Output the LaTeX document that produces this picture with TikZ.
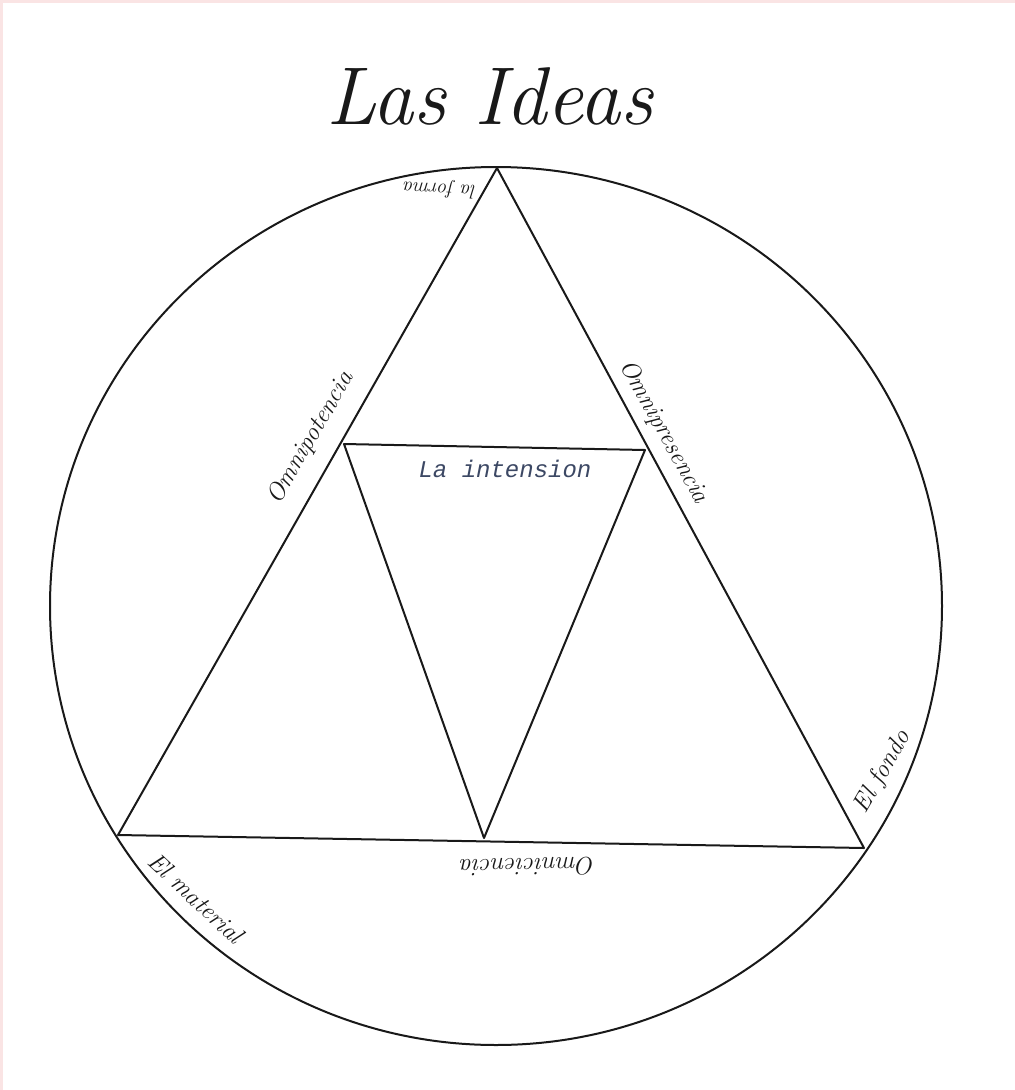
\documentclass[tikz,border=0pt]{standalone}
\usepackage{fontspec}
\newfontfamily\monoit{Liberation Mono}
\definecolor{frame}{RGB}{250,228,228}
\definecolor{ink}{RGB}{25,25,25}
\definecolor{typed}{RGB}{60,72,100}
\tikzset{
  sketch/.style={draw=ink, line width=2pt, line join=round, line cap=round},
  hand/.style={text=ink, font=\itshape\fontsize{25}{25}\selectfont, inner sep=1pt},
  titlehand/.style={text=ink, font=\itshape\fontsize{82}{82}\selectfont, inner sep=0pt},
  typedlab/.style={text=typed, font=\monoit\itshape\fontsize{24}{24}\selectfont, inner sep=1pt}
}
\begin{document}
\begin{tikzpicture}[x=1pt,y=-1pt]
\useasboundingbox (0,0) rectangle (1015,1090);
\fill[white] (0,0) rectangle (1015,1090);
\fill[frame] (0,0) rectangle (1015,3);
\fill[frame] (0,0) rectangle (3,1090);

% circle
\draw[sketch] (496,606) ellipse [x radius=446, y radius=439];

% outer triangle
\coordinate (A) at (497,168);
\coordinate (B) at (118,835);
\coordinate (C) at (864,848);
% inner triangle
\coordinate (P) at (344,444);
\coordinate (Q) at (645,450);
\coordinate (R) at (484,838);

\draw[sketch] (A) -- (B) -- (C) -- cycle;
\draw[sketch] (P) -- (Q) -- (R) -- cycle;

% labels
\node[titlehand] (title) at (490,96) {Las Ideas};
\node[hand, font=\itshape\fontsize{20}{20}\selectfont, rotate=177] (forma) at (440,189) {la forma};
\node[hand, rotate=60] (potencia) at (311,438) {Omnipotencia};
\node[hand, rotate=-61] (presencia) at (664,432) {Omnipresencia};
\node[typedlab] (intension) at (505,469) {La intension};
\node[hand, rotate=60] (fondo) at (883,772) {El fondo};
\node[hand, rotate=-43] (material) at (196,898) {El material};
\node[hand, rotate=181] (ciencia) at (528,867) {Omniciencia};
\end{tikzpicture}
\end{document}
